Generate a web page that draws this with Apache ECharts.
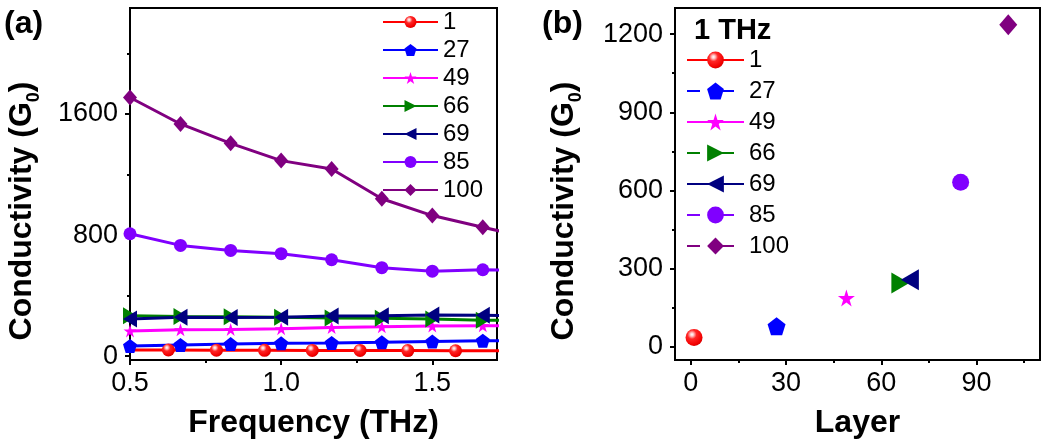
<!DOCTYPE html>
<html>
<head>
<meta charset="utf-8">
<script src="https://cdn.jsdelivr.net/npm/echarts@6.0.0/dist/echarts.min.js"></script>
<style>
  html, body { margin: 0; padding: 0; background: #fff; }
  #chart { width: 1045px; height: 445px; }
</style>
</head>
<body>
<div id="chart"></div>
<script>
// ---- data: conductivity (in units of G0) vs frequency, per layer count ----
const layerNames = ['1', '27', '49', '66', '69', '85', '100'];
const freqTHz = [0.5, 0.667, 0.833, 1.0, 1.167, 1.333, 1.5, 1.667, 1.833];
const freqTHzLayer1 = [0.468, 0.627, 0.786, 0.945, 1.103, 1.261, 1.419, 1.577, 1.736];
const sigma1   = [42, 41, 40, 39, 38, 38, 37, 36, 36];
const sigma27  = [68, 74, 80, 85, 88, 92, 97, 102, 105];
const sigma49  = [167, 175, 177, 182, 190, 194, 199, 201, 203];
const sigma66  = [268, 262, 260, 258, 252, 250, 246, 238, 236];
const sigma69  = [245, 258, 256, 258, 265, 268, 272, 270, 266];
const sigma85  = [809, 732, 699, 677, 637, 585, 562, 571, 565];
const sigma100 = [1709, 1534, 1406, 1292, 1237, 1040, 929, 852, 778];

// conductivity at 1 THz vs number of layers
const layers = [1, 27, 49, 66, 69, 85, 100];
const sigmaAt1THz = [36, 79, 188, 245, 258, 632, 1236];

// tick values
const freqTicks = [0.5, 1.0, 1.5];
const freqMinorTicks = [0.75, 1.25];
const sigmaTicksA = [0, 800, 1600];
const sigmaMinorTicksA = [400, 1200, 2000];
const layerTicks = [0, 30, 60, 90];
const layerMinorTicks = [15, 45, 75, 105];
const sigmaTicksB = [0, 300, 600, 900, 1200];
const sigmaMinorTicksB = [150, 450, 750, 1050];

// ---- styles ----
const FONT = "'Liberation Sans', Arial, Helvetica, sans-serif";
const BLACK = '#000';
const layerColors = ['#ff0000', '#0000ff', '#ff00ff', '#008000', '#000080', '#8000ff', '#800080'];
const PENTAGON = 'path://M0,-1L0.951,-0.309L0.588,0.809L-0.588,0.809L-0.951,-0.309Z';
const STAR = 'path://M0,-1L0.2245,-0.309L0.951,-0.309L0.3633,0.118L0.588,0.809L0,0.382L-0.588,0.809L-0.3633,0.118L-0.951,-0.309L-0.2245,-0.309Z';
const TRI_RIGHT = 'path://M0,0L1,0.5L0,1Z';
const TRI_LEFT = 'path://M1,0L0,0.5L1,1Z';
const layerSymbols = ['circle', PENTAGON, STAR, TRI_RIGHT, TRI_LEFT, 'circle', 'diamond'];
const symbolSizesA = [13, 14, 13, [14, 17], [14, 17], 13, [14, 16]];
const symbolSizesB = [17, 18, 17, [18, 21], [18, 21], 17, [18, 21]];
const dashedB = [false, true, false, true, false, true, true];
const sphereRed = {
  type: 'radial', x: 0.38, y: 0.32, r: 0.7,
  colorStops: [
    { offset: 0, color: '#ffffff' },
    { offset: 0.14, color: '#ffc8c8' },
    { offset: 0.38, color: '#ff2626' },
    { offset: 0.85, color: '#f20000' },
    { offset: 1, color: '#d40000' }
  ]
};

const freqValues = [sigma1, sigma27, sigma49, sigma66, sigma69, sigma85, sigma100];

function markColor(i) { return i === 0 ? sphereRed : layerColors[i]; }

const tickFont = { fontSize: 27, fontFamily: FONT, color: BLACK };

function majorAxis(extra, ticks, margin, formatter) {
  return Object.assign({
    type: 'value',
    splitLine: { show: false },
    axisLine: { show: true, onZero: false, lineStyle: { color: BLACK, width: 2 } },
    axisTick: { show: true, inside: false, length: 5, customValues: ticks,
                lineStyle: { color: BLACK, width: 2 } },
    axisLabel: Object.assign({ show: true, margin, customValues: ticks, formatter }, tickFont)
  }, extra);
}

function minorAxis(gridIndex, min, max, position, ticks) {
  return {
    type: 'value', gridIndex, min, max, position,
    splitLine: { show: false },
    axisLine: { show: false, onZero: false },
    axisLabel: { show: false },
    axisTick: { show: true, inside: false, length: 3, customValues: ticks,
                lineStyle: { color: BLACK, width: 2 } }
  };
}

const plainNumber = v => String(Math.round(v));
const axisNameStyle = { fontSize: 32, fontWeight: 'bold', fontFamily: FONT, color: BLACK };
const condName = '{m|Conductivity (G}{s|0}{m|)}';
const condNameStyle = {
  padding: [0, 54, 0, 0],
  rich: {
    m: { fontSize: 32, fontWeight: 'bold', fontFamily: FONT, color: BLACK, lineHeight: 40 },
    s: { fontSize: 18, fontWeight: 'bold', fontFamily: FONT, color: BLACK, lineHeight: 40, padding: [24, 0, 0, 0] }
  }
};

const seriesFreq = layerNames.map((n, i) => ({
  type: 'line',
  name: 'freq-' + n,
  xAxisIndex: 0, yAxisIndex: 0,
  data: (i === 0 ? freqTHzLayer1 : freqTHz).map((f, k) => [f, freqValues[i][k]]),
  symbol: layerSymbols[i],
  symbolSize: symbolSizesA[i],
  showSymbol: true,
  clip: true,
  lineStyle: { color: layerColors[i], width: 3 },
  itemStyle: { color: markColor(i), borderWidth: 0 },
  emphasis: { disabled: true }
}));

const seriesLayer = layerNames.map((n, i) => ({
  type: 'line',
  name: 'layer-' + n,
  xAxisIndex: 1, yAxisIndex: 1,
  data: [[layers[i], sigmaAt1THz[i]]],
  symbol: layerSymbols[i],
  symbolSize: symbolSizesB[i],
  showSymbol: true,
  lineStyle: { color: layerColors[i], width: 3, type: dashedB[i] ? [13, 21] : 'solid' },
  itemStyle: { color: markColor(i), borderWidth: 0 },
  emphasis: { disabled: true }
}));

const legendText = { fontSize: 24, fontFamily: FONT, color: BLACK, lineHeight: 24 };

const option = {
  animation: false,
  backgroundColor: '#fff',
  title: [
    { text: '(a)', left: 4, top: 8, padding: 0,
      textStyle: { fontSize: 32, fontWeight: 'bold', fontFamily: FONT, color: BLACK } },
    { text: '(b)', left: 542, top: 8, padding: 0,
      textStyle: { fontSize: 32, fontWeight: 'bold', fontFamily: FONT, color: BLACK } },
    { text: '1 THz', left: 694, top: 16, padding: 0,
      textStyle: { fontSize: 29, fontWeight: 'bold', fontFamily: FONT, color: BLACK } }
  ],
  grid: [
    { left: 128, top: 8, width: 369, height: 352, show: true, borderColor: BLACK, borderWidth: 2, backgroundColor: 'transparent' },
    { left: 675, top: 8, width: 365, height: 352, show: true, borderColor: BLACK, borderWidth: 2, backgroundColor: 'transparent' }
  ],
  xAxis: [
    majorAxis({ gridIndex: 0, min: 0.5, max: 1.714, position: 'bottom',
      name: 'Frequency (THz)', nameLocation: 'middle', nameGap: 47, nameTextStyle: axisNameStyle },
      freqTicks, 10, v => v.toFixed(1)),
    majorAxis({ gridIndex: 1, min: -5, max: 110, position: 'bottom',
      name: 'Layer', nameLocation: 'middle', nameGap: 47, nameTextStyle: axisNameStyle },
      layerTicks, 10, plainNumber),
    minorAxis(0, 0.5, 1.714, 'bottom', freqMinorTicks),
    minorAxis(1, -5, 110, 'bottom', layerMinorTicks)
  ],
  yAxis: [
    majorAxis({ gridIndex: 0, min: -25, max: 2300, position: 'left',
      name: condName, nameLocation: 'middle', nameGap: 88, nameTextStyle: condNameStyle },
      sigmaTicksA, 12, plainNumber),
    majorAxis({ gridIndex: 1, min: -50, max: 1300, position: 'left',
      name: condName, nameLocation: 'middle', nameGap: 91, nameTextStyle: condNameStyle },
      sigmaTicksB, 12, plainNumber),
    minorAxis(0, -25, 2300, 'left', sigmaMinorTicksA),
    minorAxis(1, -50, 1300, 'left', sigmaMinorTicksB)
  ],
  legend: [
    { orient: 'vertical', left: 382, top: 10, padding: 0, itemWidth: 55, itemHeight: 15, itemGap: 4,
      selectedMode: false, data: layerNames.map(n => 'freq-' + n),
      formatter: name => name.split('-')[1], textStyle: legendText },
    { orient: 'vertical', left: 686, top: 48, padding: 0, itemWidth: 57, itemHeight: 21, itemGap: 7,
      selectedMode: false, data: layerNames.map(n => 'layer-' + n),
      formatter: name => name.split('-')[1], textStyle: legendText }
  ],
  series: seriesFreq.concat(seriesLayer)
};

const chart = echarts.init(document.getElementById('chart'), null, { renderer: 'canvas' });
chart.setOption(option);
</script>
</body>
</html>
